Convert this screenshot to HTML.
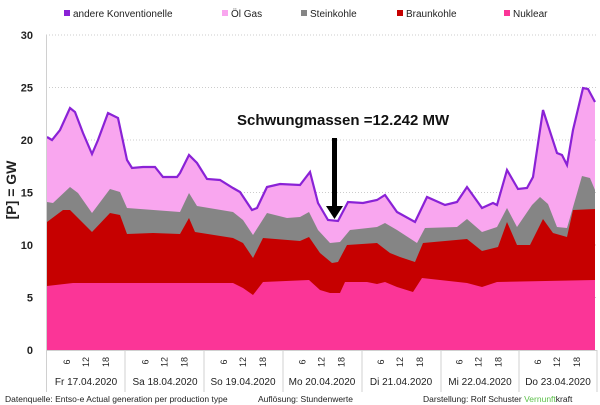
<!DOCTYPE html>
<html><head><meta charset="utf-8"><style>
body{margin:0;background:#fff;}
svg{display:block;font-family:"Liberation Sans",sans-serif;}
</style></head><body>
<svg width="600" height="405" viewBox="0 0 600 405" xmlns="http://www.w3.org/2000/svg">
<rect width="600" height="405" fill="#fff"/>
<g stroke="#ccc" stroke-dasharray="1,2" stroke-width="1">
<line x1="46" x2="597" y1="35" y2="35"/><line x1="46" x2="597" y1="87.5" y2="87.5"/>
<line x1="46" x2="597" y1="140" y2="140"/><line x1="46" x2="597" y1="192.5" y2="192.5"/>
<line x1="46" x2="597" y1="245" y2="245"/><line x1="46" x2="597" y1="297.5" y2="297.5"/>
</g>
<polygon fill="#f9a6ef" points="47,350 47,137 52,140 60,130 70,108 75,112 83,133 92,154 98,140 108,113 118,118 127,160 132,168 143,167 155,167 163,177 177,177 180,173 189,155 197,163 207,179 220,180 233,188 240,192 252,210 257,208 267,187 280,184 300,185 310,172 318,203 328,220 338,221 348,202 363,203 377,200 385,195 397,212 415,222 427,197 445,205 457,202 467,187 482,208 493,203 497,205 507,170 518,189 527,188 533,177 543,110 557,153 562,155 567,165 573,130 583,88 588,89 595,102 595,350"/>
<polyline fill="none" stroke="#8a22d6" stroke-width="2.2" points="47,137 52,140 60,130 70,108 75,112 83,133 92,154 98,140 108,113 118,118 127,160 132,168 143,167 155,167 163,177 177,177 180,173 189,155 197,163 207,179 220,180 233,188 240,192 252,210 257,208 267,187 280,184 300,185 310,172 318,203 328,220 338,221 348,202 363,203 377,200 385,195 397,212 415,222 427,197 445,205 457,202 467,187 482,208 493,203 497,205 507,170 518,189 527,188 533,177 543,110 557,153 562,155 567,165 573,130 583,88 588,89 595,102"/>
<polygon fill="#858585" points="47,350 47,202 53,203 70,187 78,193 92,213 110,189 120,192 127,208 180,212 189,193 197,206 233,212 243,220 253,235 267,213 287,218 300,217 309,212 318,230 330,243 340,242 350,230 377,227 385,223 397,230 417,243 425,228 457,227 467,219 482,232 497,227 507,208 517,227 532,205 540,197 548,204 557,227 567,228 582,176 590,178 595,190 595,350"/>
<polygon fill="#c60000" points="47,350 47,222 63,210 70,210 92,232 110,213 120,215 127,234 153,233 180,234 189,218 195,232 233,238 243,243 253,258 263,238 300,241 309,237 320,253 332,263 338,262 347,245 377,243 390,253 400,257 415,262 423,243 467,239 482,251 498,247 507,222 517,245 530,245 543,219 553,233 567,237 573,210 595,209 595,350"/>
<polygon fill="#fb3597" points="47,350 47,286 73,283 233,283 243,288 253,295 263,282 309,280 320,290 330,293 340,293 345,282 367,282 377,284 385,282 397,287 413,292 422,278 467,283 482,287 497,282 595,280 595,350"/>
<line x1="46.5" y1="35" x2="46.5" y2="350" stroke="#d0d0d0"/>
<line x1="46" y1="350.5" x2="597" y2="350.5" stroke="#d0d0d0"/>
<g stroke="#d0d0d0">
<line x1="46.5" x2="46.5" y1="350" y2="392"/><line x1="125" x2="125" y1="350" y2="392"/>
<line x1="204" x2="204" y1="350" y2="392"/><line x1="283" x2="283" y1="350" y2="392"/>
<line x1="362" x2="362" y1="350" y2="392"/><line x1="441" x2="441" y1="350" y2="392"/>
<line x1="519" x2="519" y1="350" y2="392"/><line x1="597" x2="597" y1="350" y2="392"/>
</g>
<g font-size="11" font-weight="bold" fill="#222" text-anchor="end">
<text x="33" y="39">30</text><text x="33" y="91.5">25</text><text x="33" y="144">20</text>
<text x="33" y="196.5">15</text><text x="33" y="249">10</text><text x="33" y="301.5">5</text>
<text x="33" y="354">0</text>
</g>
<text transform="translate(16,190) rotate(-90)" font-size="14" font-weight="bold" text-anchor="middle" fill="#222">[P] = GW</text>
<g font-size="9" fill="#222" text-anchor="middle">
<text transform="translate(70,362) rotate(-90)">6</text><text transform="translate(89,362) rotate(-90)">12</text><text transform="translate(109,362) rotate(-90)">18</text>
<text transform="translate(148.5,362) rotate(-90)">6</text><text transform="translate(167.5,362) rotate(-90)">12</text><text transform="translate(187.5,362) rotate(-90)">18</text>
<text transform="translate(227,362) rotate(-90)">6</text><text transform="translate(246,362) rotate(-90)">12</text><text transform="translate(266,362) rotate(-90)">18</text>
<text transform="translate(305.5,362) rotate(-90)">6</text><text transform="translate(324.5,362) rotate(-90)">12</text><text transform="translate(344.5,362) rotate(-90)">18</text>
<text transform="translate(384,362) rotate(-90)">6</text><text transform="translate(403,362) rotate(-90)">12</text><text transform="translate(423,362) rotate(-90)">18</text>
<text transform="translate(462.5,362) rotate(-90)">6</text><text transform="translate(481.5,362) rotate(-90)">12</text><text transform="translate(501.5,362) rotate(-90)">18</text>
<text transform="translate(541,362) rotate(-90)">6</text><text transform="translate(560,362) rotate(-90)">12</text><text transform="translate(580,362) rotate(-90)">18</text>
</g>
<g font-size="10" fill="#222" text-anchor="middle">
<text x="86" y="385">Fr 17.04.2020</text><text x="165" y="385">Sa 18.04.2020</text>
<text x="243" y="385">So 19.04.2020</text><text x="322" y="385">Mo 20.04.2020</text>
<text x="401" y="385">Di 21.04.2020</text><text x="480" y="385">Mi 22.04.2020</text>
<text x="558" y="385">Do 23.04.2020</text>
</g>
<g font-size="8.5" fill="#222">
<text x="5" y="402">Datenquelle: Entso-e  Actual generation per production type</text>
<text x="258" y="402">Auflösung: Stundenwerte</text>
<text x="423" y="402">Darstellung:  Rolf Schuster  <tspan fill="#5cc04a">Vernunft</tspan><tspan>kraft</tspan></text>
</g>
<g font-size="10" fill="#222">
<rect x="64" y="10" width="6" height="6" fill="#8a22d6"/><text x="73" y="17">andere Konventionelle</text>
<rect x="222" y="10" width="6" height="6" fill="#f9a6ef"/><text x="231" y="17">Öl Gas</text>
<rect x="301" y="10" width="6" height="6" fill="#858585"/><text x="310" y="17">Steinkohle</text>
<rect x="397" y="10" width="6" height="6" fill="#c60000"/><text x="406" y="17">Braunkohle</text>
<rect x="504" y="10" width="6" height="6" fill="#fb3597"/><text x="513" y="17">Nuklear</text>
</g>
<text x="237" y="125" font-size="15" font-weight="bold" fill="#111">Schwungmassen =12.242 MW</text>
<rect x="332" y="138" width="5" height="70" fill="#000"/>
<polygon points="326,206 343,206 334.5,219" fill="#000"/>
</svg>
</body></html>
